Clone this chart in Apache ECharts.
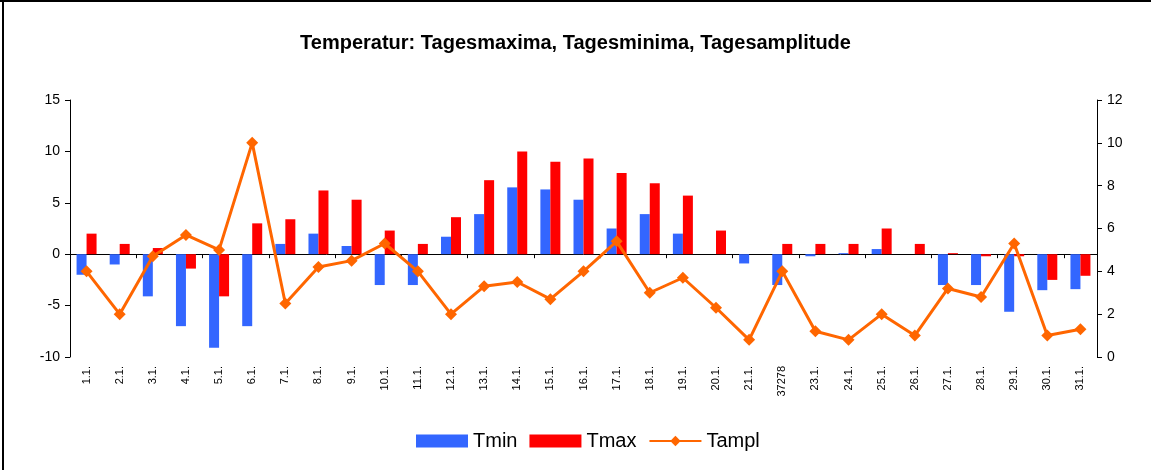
<!DOCTYPE html>
<html>
<head>
<meta charset="utf-8">
<script src="https://cdn.jsdelivr.net/npm/echarts@6/dist/echarts.min.js"></script>
<style>
html,body{margin:0;padding:0;background:#fff;}
#chart{width:1151px;height:470px;}
</style>
</head>
<body>
<div id="chart"></div>
<script>
const categories = ['1.1.','2.1.','3.1.','4.1.','5.1.','6.1.','7.1.','8.1.','9.1.','10.1.','11.1.','12.1.','13.1.','14.1.','15.1.','16.1.','17.1.','18.1.','19.1.','20.1.','21.1.','37278','23.1.','24.1.','25.1.','26.1.','27.1.','28.1.','29.1.','30.1.','31.1.'];
const tmin = [-2.0,-1.0,-4.1,-7.0,-9.1,-7.0,1.0,2.0,0.8,-3.0,-3.0,1.7,3.9,6.5,6.3,5.3,2.5,3.9,2.0,0,-0.9,-3.0,-0.2,0.1,0.5,0,-3.0,-3.0,-5.6,-3.5,-3.4];
const tmax = [2.0,1.0,0.6,-1.4,-4.1,3.0,3.4,6.2,5.3,2.3,1.0,3.6,7.2,10.0,9.0,9.3,7.9,6.9,5.7,2.3,0,1.0,1.0,1.0,2.5,1.0,0.1,-0.2,-0.2,-2.5,-2.1];
const tampl = [4.0,2.0,4.7,5.7,5.0,10.0,2.5,4.2,4.5,5.3,4.0,2.0,3.3,3.5,2.7,4.0,5.4,3.0,3.7,2.3,0.8,4.0,1.2,0.8,2.0,1.0,3.2,2.8,5.3,1.0,1.3];
const leftTicks = {min:-10, max:15, interval:5};
const rightTicks = {min:0, max:12, interval:2};

const chart = echarts.init(document.getElementById('chart'));
const font = 'Liberation Sans, Arial, sans-serif';
chart.setOption({
  animation:false,
  backgroundColor:'#fff',
  title:{text:'Temperatur: Tagesmaxima, Tagesminima, Tagesamplitude',left:'center',top:28,
    textStyle:{fontFamily:font,fontWeight:'bold',fontSize:20,color:'#000'}},
  graphic:[
    {type:'line',shape:{x1:3,y1:0,x2:3,y2:470},style:{stroke:'#000',lineWidth:2}},
    {type:'line',shape:{x1:0,y1:1,x2:1151,y2:1},style:{stroke:'#000',lineWidth:2}}
  ],
  legend:{bottom:14,left:411,itemWidth:52,itemHeight:13,itemGap:12,
    textStyle:{fontFamily:font,fontSize:20,color:'#000'},
    data:[{name:'Tmin',icon:'rect'},{name:'Tmax',icon:'rect'},{name:'Tampl'}]},
  grid:{left:70,right:54,top:100,bottom:113},
  xAxis:[
    {type:'category',data:categories,position:'bottom',
      axisLine:{onZero:true,onZeroAxisIndex:0,lineStyle:{color:'#000',width:1}},
      axisTick:{show:true,length:4,lineStyle:{color:'#000'}},
      axisLabel:{show:false},splitLine:{show:false}},
    {type:'category',data:categories,position:'bottom',
      axisLine:{show:false,onZero:false},axisTick:{show:false},
      axisLabel:{rotate:90,fontFamily:font,fontSize:11,color:'#000',margin:9,interval:0},
      splitLine:{show:false}}
  ],
  yAxis:[
    {type:'value',min:leftTicks.min,max:leftTicks.max,interval:leftTicks.interval,position:'left',
      axisLine:{show:true,lineStyle:{color:'#000'}},axisTick:{show:true,length:5,lineStyle:{color:'#000'}},
      axisLabel:{fontFamily:font,fontSize:14,color:'#000',margin:10},splitLine:{show:false}},
    {type:'value',min:rightTicks.min,max:rightTicks.max,interval:rightTicks.interval,position:'right',
      axisLine:{show:true,lineStyle:{color:'#000'}},axisTick:{show:true,length:5,lineStyle:{color:'#000'}},
      axisLabel:{fontFamily:font,fontSize:14,color:'#000',margin:10},splitLine:{show:false}}
  ],
  series:[
    {name:'Tmin',type:'bar',data:tmin,xAxisIndex:0,yAxisIndex:0,barWidth:10,barGap:'0%',
      itemStyle:{color:'#3366FF'}},
    {name:'Tmax',type:'bar',data:tmax,xAxisIndex:0,yAxisIndex:0,barWidth:10,barGap:'0%',
      itemStyle:{color:'#FF0000'}},
    {name:'Tampl',type:'line',data:tampl,xAxisIndex:0,yAxisIndex:1,symbol:'diamond',symbolSize:12,
      lineStyle:{color:'#FF6600',width:3},itemStyle:{color:'#FF6600'},z:5}
  ]
});
</script>
</body>
</html>
